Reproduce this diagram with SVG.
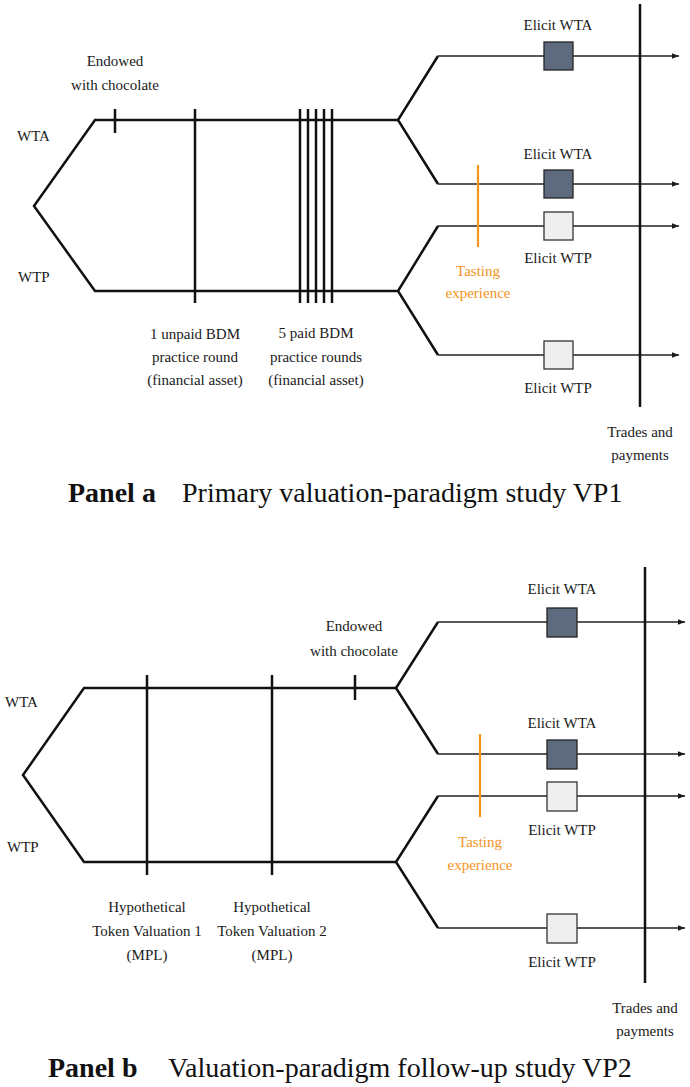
<svg xmlns="http://www.w3.org/2000/svg" width="690" height="1087" viewBox="0 0 690 1087">
<defs>
<marker id="arr" viewBox="0 0 10 10" refX="10" refY="5" markerWidth="7" markerHeight="7" markerUnits="userSpaceOnUse" orient="auto">
<path d="M0,1 L10,5 L0,9 z" fill="#1a1a1a"/>
</marker>
<style>
.main{fill:none;stroke:#111;stroke-width:2.5;stroke-linejoin:miter}
.br{fill:none;stroke:#222;stroke-width:1.4}
.tl{stroke:#111;stroke-width:2.5}
.or{stroke:#F7941D;stroke-width:2.2}
.dk{fill:#5e6a7e;stroke:#222;stroke-width:1.3}
.lt{fill:#efefef;stroke:#333;stroke-width:1.3}
text{font-family:"Liberation Serif","Times New Roman",serif;font-size:15px;fill:#1a1a1a}
.c{text-anchor:middle}
.ot{fill:#F7941D}
.cap{font-size:28px;fill:#111}
.b{font-weight:bold}
</style>
</defs>
<rect width="690" height="1087" fill="#fff"/>

<!-- Panel a -->
<g id="connectors-a">
<path class="main" d="M398,120 H95 L34,206 L95,291 H398"/>
<path class="main" d="M438,56 L398,120 L438,184"/>
<path class="main" d="M438,226 L398,291 L438,355"/>
<path class="br" d="M438,56 H679" marker-end="url(#arr)"/>
<path class="br" d="M438,184 H679" marker-end="url(#arr)"/>
<path class="br" d="M438,226 H679" marker-end="url(#arr)"/>
<path class="br" d="M438,355 H679" marker-end="url(#arr)"/>
<line class="tl" x1="115" y1="109" x2="115" y2="133"/>
<line class="tl" x1="195" y1="109" x2="195" y2="303"/>
<line class="tl" x1="300" y1="109" x2="300" y2="303"/>
<line class="tl" x1="308" y1="109" x2="308" y2="303"/>
<line class="tl" x1="316" y1="109" x2="316" y2="303"/>
<line class="tl" x1="324" y1="109" x2="324" y2="303"/>
<line class="tl" x1="332" y1="109" x2="332" y2="303"/>
<line class="or" x1="478" y1="165" x2="478" y2="247"/>
<line class="tl" x1="640" y1="4" x2="640" y2="407"/>
</g>
<g id="a-labels">
<text x="17" y="141">WTA</text>
<text x="18" y="282">WTP</text>
<text class="c" x="115" y="66">Endowed</text>
<text class="c" x="115" y="90">with chocolate</text>
<text class="c" x="195" y="339">1 unpaid BDM</text>
<text class="c" x="195" y="362">practice round</text>
<text class="c" x="195" y="385">(financial asset)</text>
<text class="c" x="316" y="338">5 paid BDM</text>
<text class="c" x="316" y="362">practice rounds</text>
<text class="c" x="316" y="385">(financial asset)</text>
<text class="c ot" x="478" y="276">Tasting</text>
<text class="c ot" x="478" y="298">experience</text>
<text class="c" x="640" y="437">Trades and</text>
<text class="c" x="640" y="460">payments</text>
</g>
<g id="a-elicit-wta-1"><rect class="dk" x="544" y="42" width="29" height="28"/><text class="c" x="558" y="30">Elicit WTA</text></g>
<g id="a-elicit-wta-2"><rect class="dk" x="544" y="170" width="29" height="28"/><text class="c" x="558" y="159">Elicit WTA</text></g>
<g id="a-elicit-wtp-1"><rect class="lt" x="544" y="212" width="29" height="28"/><text class="c" x="558" y="263">Elicit WTP</text></g>
<g id="a-elicit-wtp-2"><rect class="lt" x="544" y="341" width="29" height="28"/><text class="c" x="558" y="393">Elicit WTP</text></g>
<g id="caption-a"><text class="cap" y="502"><tspan class="b" x="68">Panel a</tspan><tspan x="182">Primary valuation-paradigm study VP1</tspan></text></g>

<!-- Panel b -->
<g id="connectors-b">
<path class="main" d="M396,688 H84 L23,775 L84,862 H396"/>
<path class="main" d="M438,622 L396,688 L438,754"/>
<path class="main" d="M438,796 L396,862 L438,928"/>
<path class="br" d="M438,622 H685" marker-end="url(#arr)"/>
<path class="br" d="M438,754 H685" marker-end="url(#arr)"/>
<path class="br" d="M438,796 H685" marker-end="url(#arr)"/>
<path class="br" d="M438,928 H685" marker-end="url(#arr)"/>
<line class="tl" x1="147" y1="675" x2="147" y2="875"/>
<line class="tl" x1="272" y1="675" x2="272" y2="875"/>
<line class="tl" x1="355" y1="675" x2="355" y2="700"/>
<line class="or" x1="480" y1="734" x2="480" y2="817"/>
<line class="tl" x1="645" y1="567" x2="645" y2="983"/>
</g>
<g id="b-labels">
<text x="5" y="707">WTA</text>
<text x="7" y="852">WTP</text>
<text class="c" x="354" y="631">Endowed</text>
<text class="c" x="354" y="656">with chocolate</text>
<text class="c" x="147" y="912">Hypothetical</text>
<text class="c" x="147" y="936">Token Valuation 1</text>
<text class="c" x="147" y="960">(MPL)</text>
<text class="c" x="272" y="912">Hypothetical</text>
<text class="c" x="272" y="936">Token Valuation 2</text>
<text class="c" x="272" y="960">(MPL)</text>
<text class="c ot" x="480" y="847">Tasting</text>
<text class="c ot" x="480" y="870">experience</text>
<text class="c" x="645" y="1013">Trades and</text>
<text class="c" x="645" y="1036">payments</text>
</g>
<g id="b-elicit-wta-1"><rect class="dk" x="547" y="608" width="30" height="29"/><text class="c" x="562" y="594">Elicit WTA</text></g>
<g id="b-elicit-wta-2"><rect class="dk" x="547" y="740" width="30" height="29"/><text class="c" x="562" y="728">Elicit WTA</text></g>
<g id="b-elicit-wtp-1"><rect class="lt" x="547" y="782" width="30" height="29"/><text class="c" x="562" y="835">Elicit WTP</text></g>
<g id="b-elicit-wtp-2"><rect class="lt" x="547" y="914" width="30" height="29"/><text class="c" x="562" y="967">Elicit WTP</text></g>
<g id="caption-b"><text class="cap" y="1077"><tspan class="b" x="48">Panel b</tspan><tspan x="168">Valuation-paradigm follow-up study VP2</tspan></text></g>
</svg>
